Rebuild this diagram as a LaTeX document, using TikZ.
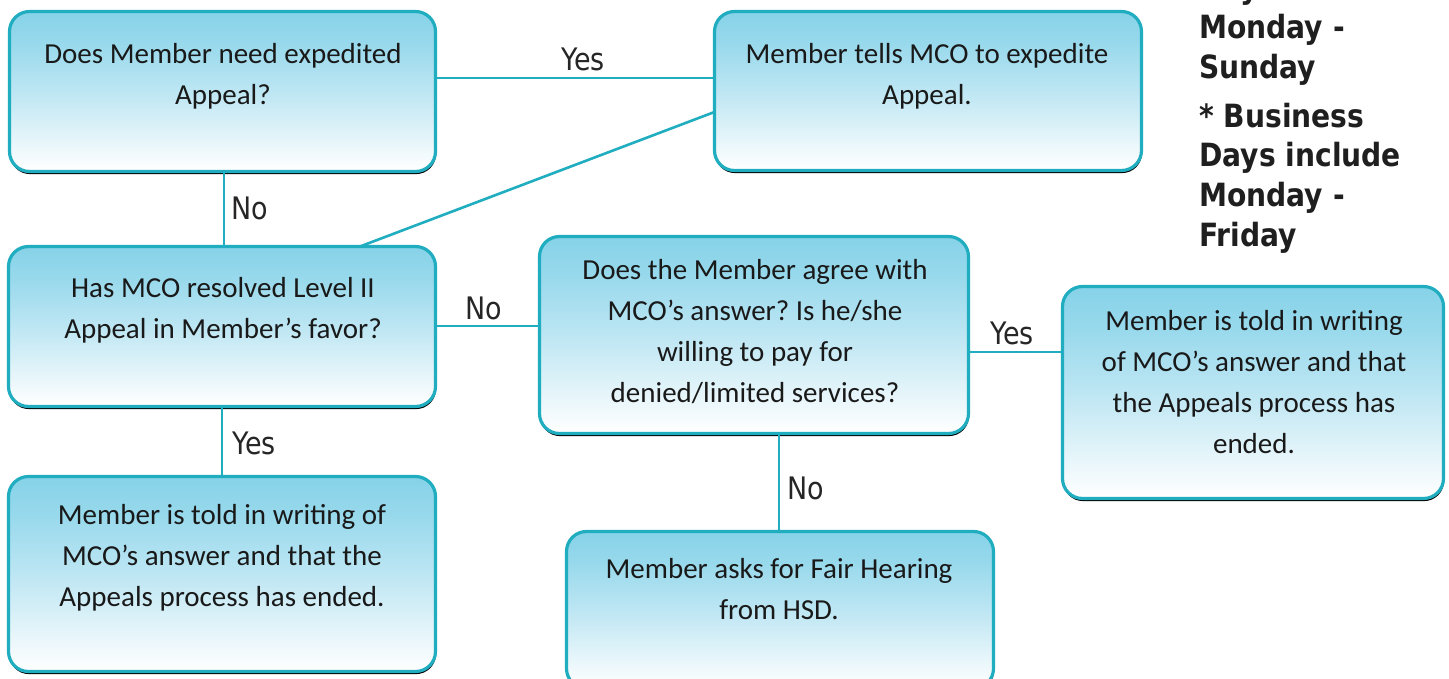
\documentclass[tikz,border=0pt]{standalone}
\usepackage{fontspec}
\setmainfont{Carlito}
\newfontfamily\lblfont[FakeStretch=0.87]{DejaVu Sans}
\newfontfamily\notefont[FakeStretch=0.88]{DejaVu Sans Bold}
\usetikzlibrary{shadows}
\definecolor{cLine}{HTML}{1FADBF}
\definecolor{cTop}{HTML}{86D2E8}
\definecolor{cS1}{HTML}{98D9EC}
\definecolor{cS2}{HTML}{BDE6F3}
\definecolor{cS3}{HTML}{F0F9FC}
\pgfdeclareverticalshading{boxshade}{100bp}{color(0bp)=(white); color(25bp)=(white); color(31bp)=(cS3); color(50bp)=(cS2); color(65bp)=(cS1); color(75bp)=(cTop); color(100bp)=(cTop)}
\frenchspacing
\begin{document}
\begin{tikzpicture}[x=1pt,y=-1pt,
  box/.style={draw=cLine, line width=3.2pt, rounded corners=20pt,
    shade, shading=boxshade,
    drop shadow={shadow xshift=0.5pt, shadow yshift=-2.6pt, opacity=1, fill=black},
    inner sep=0pt, outer sep=0pt},
  btext/.style={font=\fontsize{29}{41}\selectfont, align=center, inner sep=0pt, text=black!90},
  conn/.style={draw=cLine, line width=2.6pt},
  lbl/.style={font=\lblfont\fontsize{31}{36}\selectfont, anchor=base, inner sep=0pt, text=black!85},
  note/.style={font=\notefont\fontsize{32}{40}\selectfont, anchor=base west, inner sep=0pt, text=black!88}]
\useasboundingbox (0,0) rectangle (1449,679);
\clip (0,0) rectangle (1449,679);
\fill[white] (0,0) rectangle (1449,679);

% boxes
\node[box, minimum width=426pt, minimum height=160pt] (A) at (222.5,91.5) {};
\node[box, minimum width=427pt, minimum height=159pt] (B) at (928,91) {};
\node[box, minimum width=427pt, minimum height=160pt] (C) at (222,326.5) {};
\node[box, minimum width=429pt, minimum height=197pt] (D) at (754,335) {};
\node[box, minimum width=381pt, minimum height=212pt] (E) at (1253,392.5) {};
\node[box, minimum width=427pt, minimum height=195pt] (F) at (222,574) {};
\node[box, minimum width=427pt, minimum height=157pt] (G) at (780,610) {};

% box texts
\node[btext] (At) at (223,76) {Does Member need expedited\\Appeal?};
\node[btext] (Bt) at (927,76) {Member tells MCO to expedite\\Appeal.};
\node[btext] (Ct) at (223,310) {Has MCO resolved Level II\\Appeal in Member’s favor?};
\node[btext] (Dt) at (755,332) {Does the Member agree with\\MCO’s answer? Is he/she\\willing to pay for\\denied/limited services?};
\node[btext] (Et) at (1254,382) {Member is told in writing\\of MCO’s answer and that\\the Appeals process has\\ended.};
\node[btext] (Ft) at (222,558) {Member is told in writing of\\MCO’s answer and that the\\Appeals process has ended.};
\node[btext] (Gt) at (779,589) {Member asks for Fair Hearing\\from HSD.};

% connectors
\draw[conn] (A.east |- 0,78) -- (B.west |- 0,78);
\draw[conn] (A.south -| 224,0) -- (C.north -| 224,0);
\draw[conn] (C.north -| 360,0) -- (B.west |- 0,112);
\draw[conn] (C.east |- 0,326) -- (D.west |- 0,326);
\draw[conn] (D.east |- 0,352) -- (E.west |- 0,352);
\draw[conn] (D.south -| 779,0) -- (G.north -| 779,0);
\draw[conn] (C.south -| 222,0) -- (F.north -| 222,0);

% connector labels
\node[lbl] (l1) at (583,71) {Yes};
\node[lbl] (l2) at (250,220) {No};
\node[lbl] (l3) at (484,319) {No};
\node[lbl] (l4) at (1012,344) {Yes};
\node[lbl] (l5) at (254,454) {Yes};
\node[lbl] (l6) at (806,499) {No};

% note text
\node[note] (n0) at (1199,-1) {Days include};
\node[note] (n1) at (1199,39) {Monday -};
\node[note] (n2) at (1199,79) {Sunday};
\node[note] (n3) at (1199,128) {* Business};
\node[note] (n4) at (1199,167) {Days include};
\node[note] (n5) at (1199,207) {Monday -};
\node[note] (n6) at (1199,247) {Friday};
\end{tikzpicture}
\end{document}
